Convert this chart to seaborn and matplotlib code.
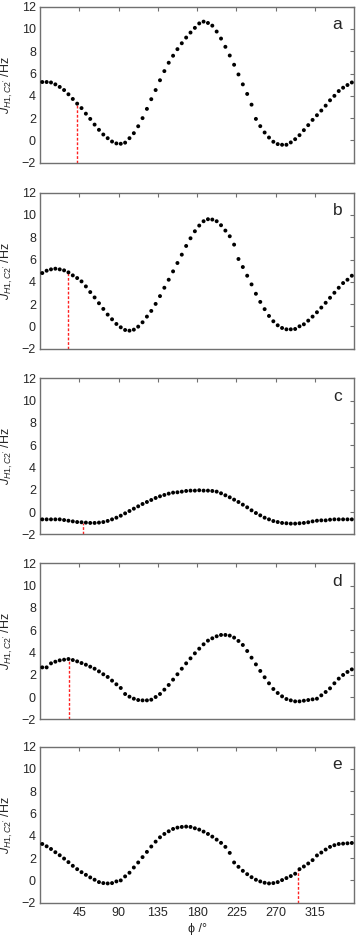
import numpy as np
import pandas as pd
import matplotlib
matplotlib.use("Agg")
import matplotlib.pyplot as plt
import seaborn as sns

# torsion angle grid (deg), 5 deg steps
phi = np.arange(2.5, 360, 5.0)

j_a = [5.24, 5.24, 5.20, 5.03, 4.80, 4.52, 4.14, 3.72, 3.30, 2.90,
       2.40, 1.93, 1.42, 0.95, 0.53, 0.20, -0.10, -0.27, -0.30, -0.20,
       0.20, 0.65, 1.27, 2.00, 2.83, 3.70, 4.52, 5.40, 6.22, 6.97,
       7.60, 8.19, 8.72, 9.23, 9.68, 10.10, 10.50, 10.66, 10.54, 10.30,
       9.77, 9.14, 8.40, 7.62, 6.79, 5.92, 5.03, 4.17, 3.21, 1.93,
       1.28, 0.71, 0.26, -0.12, -0.33, -0.39, -0.39, -0.18, 0.11, 0.47,
       0.92, 1.37, 1.84, 2.26, 2.68, 3.12, 3.60, 4.00, 4.43, 4.73,
       4.97, 5.20]
j_b = [4.79, 5.00, 5.12, 5.18, 5.12, 5.03, 4.85, 4.58, 4.34, 4.04,
       3.59, 3.08, 2.60, 2.08, 1.57, 1.06, 0.64, 0.22, -0.08, -0.32,
       -0.38, -0.29, -0.02, 0.37, 0.88, 1.39, 2.02, 2.72, 3.47, 4.19,
       4.94, 5.69, 6.44, 7.22, 7.91, 8.54, 9.05, 9.44, 9.62, 9.59,
       9.44, 9.08, 8.60, 8.09, 7.34, 6.05, 5.33, 4.55, 3.77, 2.93,
       2.20, 1.55, 0.94, 0.46, 0.10, -0.14, -0.26, -0.26, -0.23, 0.01,
       0.19, 0.52, 0.88, 1.27, 1.69, 2.12, 2.57, 3.02, 3.47, 3.89,
       4.19, 4.55]
j_c = [-0.66, -0.66, -0.66, -0.66, -0.66, -0.72, -0.78, -0.84, -0.90, -0.92,
       -0.95, -0.98, -0.98, -0.95, -0.90, -0.80, -0.66, -0.51, -0.33, -0.12,
       0.09, 0.30, 0.51, 0.72, 0.90, 1.08, 1.26, 1.41, 1.53, 1.65,
       1.74, 1.77, 1.83, 1.89, 1.92, 1.92, 1.95, 1.92, 1.92, 1.89,
       1.83, 1.68, 1.50, 1.32, 1.11, 0.90, 0.66, 0.42, 0.15, -0.09,
       -0.30, -0.51, -0.66, -0.81, -0.90, -0.98, -1.01, -1.04, -1.04, -1.01,
       -0.98, -0.92, -0.84, -0.78, -0.75, -0.75, -0.69, -0.66, -0.66, -0.66,
       -0.66, -0.66]
j_d = [2.66, 2.66, 3.02, 3.17, 3.29, 3.35, 3.41, 3.32, 3.20, 3.05,
       2.90, 2.72, 2.54, 2.30, 2.04, 1.80, 1.47, 1.14, 0.81, 0.27,
       0.03, -0.15, -0.27, -0.30, -0.30, -0.24, 0.00, 0.27, 0.66, 1.08,
       1.56, 2.04, 2.54, 3.02, 3.47, 3.92, 4.34, 4.73, 5.06, 5.27,
       5.45, 5.57, 5.57, 5.51, 5.33, 5.03, 4.67, 4.13, 3.53, 2.93,
       2.34, 1.77, 1.23, 0.72, 0.36, 0.06, -0.18, -0.30, -0.39, -0.39,
       -0.33, -0.27, -0.21, -0.15, 0.15, 0.45, 0.78, 1.23, 1.65, 1.98,
       2.25, 2.48]
j_e = [3.27, 3.06, 2.82, 2.53, 2.26, 1.96, 1.64, 1.31, 1.01, 0.74,
       0.50, 0.27, 0.06, -0.15, -0.24, -0.27, -0.24, -0.09, 0.00, 0.36,
       0.69, 1.16, 1.61, 2.09, 2.56, 3.04, 3.48, 3.87, 4.17, 4.41,
       4.62, 4.74, 4.80, 4.83, 4.80, 4.68, 4.56, 4.38, 4.17, 3.93,
       3.66, 3.37, 3.01, 2.47, 1.61, 1.22, 0.86, 0.56, 0.29, 0.06,
       -0.09, -0.21, -0.27, -0.24, -0.15, 0.03, 0.21, 0.39, 0.60, 1.01,
       1.25, 1.52, 1.82, 2.24, 2.50, 2.77, 3.01, 3.16, 3.27, 3.30,
       3.33, 3.36]

panel_labels = ["a", "b", "c", "d", "e"]
# red dashed marker: angle (deg) and height it reaches (Hz)
marker_phi = [42, 32.5, 49.5, 33.5, 295.5]
marker_j = [3.3, 4.85, -0.95, 3.4, 1.0]

x_ticks = [45, 90, 135, 180, 225, 270, 315]
y_ticks = [-2, 0, 2, 4, 6, 8, 10, 12]

sns.set_style("white")
plt.rcParams["font.family"] = ["Liberation Sans", "DejaVu Sans"]
plt.rcParams["mathtext.fontset"] = "custom"
plt.rcParams["mathtext.it"] = "Liberation Sans:italic"
plt.rcParams["mathtext.rm"] = "Liberation Sans"

W, H = 356, 939
fig = plt.figure(figsize=(W / 100, H / 100), dpi=100)

# axes tops/bottoms in pixels
tops = [6.7, 192.7, 378.3, 563.3, 746.7]
ax_h = 156.0
left_px, width_px = 40.1, 313.9

series = [j_a, j_b, j_c, j_d, j_e]
for i, (vals, lab) in enumerate(zip(series, panel_labels)):
    bottom = 1 - (tops[i] + ax_h) / H
    ax = fig.add_axes([left_px / W, bottom, width_px / W, ax_h / H])
    df = pd.DataFrame({"phi": phi, "J": vals})

    ax.plot([marker_phi[i], marker_phi[i]], [-2, marker_j[i]], color="#ff2020",
            lw=1.0, ls=(0, (2, 1.3)), zorder=1)
    sns.scatterplot(data=df, x="phi", y="J", ax=ax, color="black", s=8,
                    edgecolor="none", linewidth=0, zorder=3)

    ax.set_xlim(0, 360)
    ax.set_ylim(-2, 12)
    ax.set_xticks(x_ticks)
    ax.set_yticks(y_ticks)
    ax.tick_params(direction="in", length=3, width=0.8, color="#707070",
                   top=True, right=True, labelsize=9, pad=3)
    for sp in ax.spines.values():
        sp.set_color("#707070")
        sp.set_linewidth(1.0)
    if i < 4:
        ax.set_xticklabels([])
        ax.set_xlabel("")
    else:
        ax.set_xlabel("ϕ /°", fontsize=9, labelpad=3)
    ax.set_ylabel(r"$J_{H1,C2'}$ /Hz", fontsize=9)
    ax.yaxis.set_label_coords(-0.08, 0.5)
    ax.text(0.947, 0.885, lab, transform=ax.transAxes, fontsize=12.5,
            ha="center", va="center")

fig.savefig("out.png", dpi=100)
